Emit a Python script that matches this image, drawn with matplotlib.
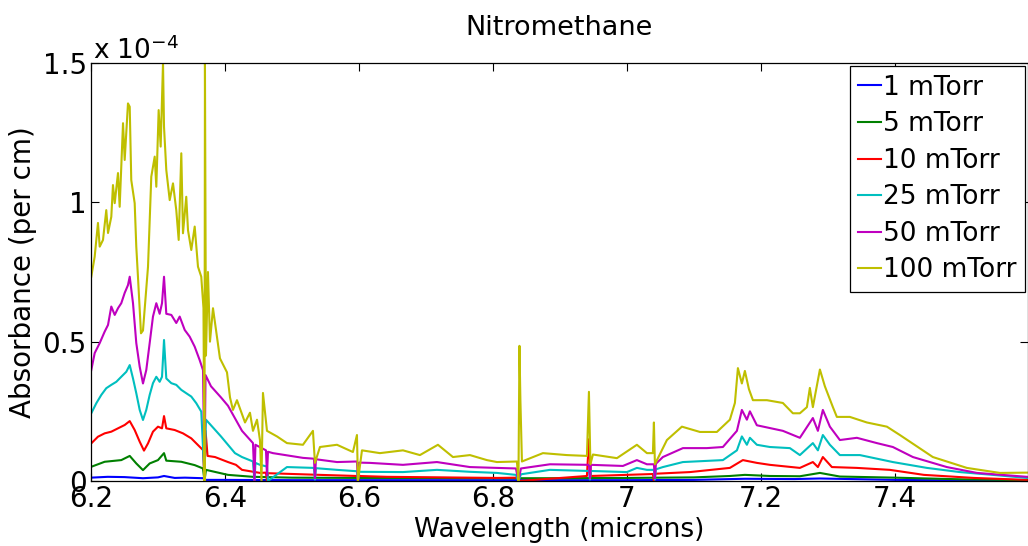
import matplotlib
matplotlib.use("Agg")
import matplotlib.pyplot as plt
import numpy as np

plt.rcParams['font.family'] = ['DejaVu Sans']

# absorbance values are in units of 1e-4 per cm
wl_100 = [6.2004, 6.2055, 6.2104, 6.2130, 6.2179, 6.2228, 6.2254, 6.2303, 6.2328, 6.2354,
          6.2403, 6.2428, 6.2478, 6.2503, 6.2552, 6.2578, 6.2601, 6.2652, 6.2676, 6.2701,
          6.2746, 6.2776, 6.2851, 6.2900, 6.2951, 6.2975, 6.3010, 6.3040, 6.3075, 6.3090,
          6.3124, 6.3175, 6.3224, 6.3273, 6.3309, 6.3348, 6.3373, 6.3422, 6.3448, 6.3497,
          6.3548, 6.3597, 6.3646, 6.3679, 6.3694, 6.3701, 6.3716, 6.3746, 6.3776, 6.3821,
          6.3925, 6.4030, 6.4075, 6.4119, 6.4179, 6.4299, 6.4373, 6.4418, 6.4478, 6.4522,
          6.4545, 6.4567, 6.4627, 6.4776, 6.4925, 6.5164, 6.5313, 6.5343, 6.5418, 6.5672,
          6.5910, 6.5970, 6.5985, 6.6045, 6.6313, 6.6657, 6.6910, 6.7179, 6.7403, 6.7657,
          6.7910, 6.8060, 6.8358, 6.8381, 6.8396, 6.8410, 6.8433, 6.8746, 6.9104, 6.9403,
          6.9433, 6.9455, 6.9493, 6.9851, 7.0149, 7.0299, 7.0388, 7.0403, 7.0418, 7.0597,
          7.0821, 7.1090, 7.1343, 7.1537, 7.1612, 7.1657, 7.1716, 7.1761, 7.1821, 7.1881,
          7.2090, 7.2328, 7.2478, 7.2582, 7.2687, 7.2731, 7.2776, 7.2881, 7.2955, 7.3075,
          7.3134, 7.3328, 7.3582, 7.3881, 7.4075, 7.4567, 7.5075, 7.5567, 7.5970]
abs_100 = [0.733, 0.805, 0.926, 0.841, 0.865, 0.972, 0.890, 0.948, 1.062, 0.997,
           1.105, 0.984, 1.284, 1.152, 1.355, 1.343, 1.080, 0.997, 0.841, 0.733,
           0.530, 0.540, 0.769, 1.092, 1.164, 1.056, 1.331, 1.200, 1.500, 1.271,
           1.116, 1.008, 1.068, 0.972, 0.865, 1.176, 0.889, 1.020, 0.900, 0.829,
           0.913, 0.769, 0.733, 0.620, 0.000, 1.500, 0.450, 0.750, 0.500, 0.620,
           0.440, 0.390, 0.300, 0.255, 0.290, 0.210, 0.245, 0.180, 0.220, 0.147,
           0.000, 0.316, 0.180, 0.160, 0.136, 0.130, 0.180, 0.065, 0.122, 0.130,
           0.104, 0.165, 0.000, 0.110, 0.100, 0.110, 0.093, 0.130, 0.086, 0.093,
           0.075, 0.068, 0.070, 0.000, 0.485, 0.290, 0.070, 0.100, 0.093, 0.090,
           0.320, 0.060, 0.095, 0.082, 0.130, 0.100, 0.100, 0.210, 0.060, 0.147,
           0.195, 0.176, 0.176, 0.220, 0.280, 0.405, 0.350, 0.395, 0.330, 0.290,
           0.290, 0.280, 0.243, 0.243, 0.265, 0.334, 0.265, 0.400, 0.340, 0.265,
           0.230, 0.230, 0.210, 0.195, 0.165, 0.086, 0.047, 0.029, 0.030]

wl_50 = [6.2004, 6.2055, 6.2130, 6.2204, 6.2254, 6.2303, 6.2354, 6.2403, 6.2452, 6.2503,
         6.2552, 6.2578, 6.2627, 6.2676, 6.2727, 6.2776, 6.2825, 6.2876, 6.2925, 6.2975,
         6.3025, 6.3060, 6.3090, 6.3124, 6.3199, 6.3273, 6.3324, 6.3399, 6.3473, 6.3548,
         6.3622, 6.3672, 6.3694, 6.3710, 6.3791, 6.3940, 6.4045,
         6.4254, 6.4418, 6.4440, 6.4455, 6.4612, 6.4627, 6.4642, 6.4716, 6.5164, 6.5328,
         6.5343, 6.5358, 6.5672, 6.5970, 6.5985, 6.6000, 6.6164, 6.6657, 6.7164, 6.7657,
         6.8060, 6.8343, 6.8381, 6.8418, 6.8851, 6.9433, 6.9448, 6.9463, 6.9940, 7.0149,
         7.0299, 7.0403, 7.0418, 7.0433, 7.0537, 7.0836, 7.1194, 7.1433, 7.1642, 7.1716,
         7.1791, 7.1836, 7.1940, 7.2134, 7.2328, 7.2582, 7.2776, 7.2851, 7.2925, 7.3030,
         7.3179, 7.3433, 7.3731, 7.3970, 7.4269, 7.4776, 7.5224, 7.5970]
abs_50 = [0.398, 0.459, 0.495, 0.536, 0.560, 0.626, 0.596, 0.620, 0.638, 0.675,
          0.703, 0.733, 0.638, 0.495, 0.410, 0.350, 0.398, 0.495, 0.590, 0.638,
          0.600, 0.638, 0.733, 0.600, 0.596, 0.567, 0.590, 0.542, 0.518, 0.482,
          0.434, 0.398, 0.020, 0.380, 0.340, 0.300, 0.270,
          0.180, 0.136, 0.000, 0.130, 0.110, 0.020, 0.105, 0.100, 0.083, 0.080,
          0.010, 0.078, 0.068, 0.070, 0.000, 0.066, 0.065, 0.058, 0.068, 0.050,
          0.047, 0.045, 0.000, 0.045, 0.060, 0.058, 0.010, 0.058, 0.054, 0.075,
          0.060, 0.060, 0.010, 0.062, 0.086, 0.118, 0.118, 0.122, 0.180, 0.255,
          0.220, 0.250, 0.200, 0.190, 0.180, 0.155, 0.226, 0.180, 0.255, 0.195,
          0.147, 0.155, 0.136, 0.122, 0.086, 0.050, 0.029, 0.015]

wl_25 = [6.2004, 6.2079, 6.2154, 6.2228, 6.2303, 6.2378, 6.2452, 6.2527, 6.2578, 6.2627,
         6.2676, 6.2727, 6.2776, 6.2825, 6.2876, 6.2925, 6.2975, 6.3025, 6.3060, 6.3090,
         6.3124, 6.3199, 6.3273, 6.3348, 6.3422, 6.3497, 6.3572, 6.3646,
         6.3694, 6.3716, 6.3791, 6.3940, 6.4149, 6.4254,
         6.4418, 6.4440, 6.4455, 6.4522, 6.4627, 6.4642, 6.4925, 6.5328, 6.5343, 6.5358,
         6.5672, 6.5970, 6.5985, 6.6000, 6.6657, 6.7164, 6.7657, 6.8060, 6.8343, 6.8381,
         6.8418, 6.8851, 6.9433, 6.9448, 6.9463, 7.0000, 7.0149, 7.0299, 7.0403, 7.0418,
         7.0433, 7.0537, 7.0836, 7.1433, 7.1642, 7.1716, 7.1791, 7.1836, 7.1940, 7.2134,
         7.2433, 7.2582, 7.2776, 7.2851, 7.2925, 7.3030, 7.3179, 7.3478, 7.3970,
         7.4478, 7.4970, 7.5463, 7.5970]
abs_25 = [0.243, 0.279, 0.309, 0.333, 0.345, 0.356, 0.374, 0.392, 0.416, 0.368,
          0.315, 0.255, 0.219, 0.255, 0.309, 0.351, 0.374, 0.356, 0.374, 0.506,
          0.368, 0.351, 0.345, 0.327, 0.315, 0.303, 0.279, 0.249,
          0.010, 0.220, 0.200, 0.160, 0.100, 0.086,
          0.070, 0.000, 0.065, 0.058, 0.052, 0.000, 0.050, 0.047, 0.005, 0.046,
          0.040, 0.035, 0.000, 0.033, 0.032, 0.040, 0.033, 0.029, 0.022, 0.000,
          0.024, 0.040, 0.036, 0.005, 0.036, 0.032, 0.047, 0.040, 0.040, 0.005,
          0.042, 0.050, 0.068, 0.075, 0.110, 0.160, 0.130, 0.155, 0.130, 0.122,
          0.118, 0.093, 0.136, 0.110, 0.165, 0.130, 0.093, 0.093, 0.068,
          0.047, 0.032, 0.022, 0.011]

wl_10 = [6.2004, 6.2104, 6.2204, 6.2303, 6.2403, 6.2503, 6.2578, 6.2652, 6.2727, 6.2791,
         6.2851, 6.2925, 6.3000, 6.3060, 6.3090, 6.3124, 6.3249, 6.3373, 6.3497, 6.3597,
         6.3672, 6.3694, 6.3710, 6.3740, 6.3851, 6.4045, 6.4164, 6.4254,
         6.4522, 6.4612, 6.4627, 6.4642, 6.5418, 6.5970, 6.5985, 6.6000, 6.6418, 6.8060,
         6.8381, 6.8396, 6.9403, 6.9433, 6.9463, 7.0388, 7.0403, 7.0418, 7.0940, 7.1537,
         7.1731, 7.1940, 7.2134, 7.2582, 7.2776, 7.2851, 7.2925, 7.3060, 7.3433, 7.3925,
         7.4433, 7.5179, 7.5970]
abs_10 = [0.135, 0.159, 0.171, 0.177, 0.189, 0.201, 0.215, 0.183, 0.141, 0.109,
          0.135, 0.177, 0.195, 0.189, 0.233, 0.189, 0.183, 0.171, 0.153, 0.129,
          0.111, 0.000, 0.180, 0.090, 0.086, 0.068, 0.058, 0.040,
          0.029, 0.030, 0.000, 0.028, 0.022, 0.018, 0.000, 0.018, 0.015, 0.011,
          0.012, 0.000, 0.018, 0.150, 0.018, 0.025, 0.000, 0.026, 0.032, 0.047,
          0.075, 0.065, 0.058, 0.047, 0.068, 0.050, 0.086, 0.050, 0.047, 0.040,
          0.022, 0.011, 0.004]

wl_5 = [6.2004, 6.2204, 6.2452, 6.2578, 6.2676, 6.2776, 6.2876, 6.3000, 6.3090, 6.3124,
        6.3348, 6.3548, 6.3672, 6.3694, 6.3716, 6.4045, 6.4418, 6.5000, 6.6000, 6.7000,
        6.8000, 6.9000, 7.0000, 7.1000, 7.1537, 7.1761, 7.2134, 7.2582, 7.2881, 7.3179,
        7.4000, 7.5000, 7.5970]
abs_5 = [0.051, 0.069, 0.075, 0.090, 0.063, 0.039, 0.063, 0.075, 0.100, 0.073,
         0.069, 0.057, 0.045, 0.000, 0.040, 0.022, 0.015, 0.012, 0.011, 0.011,
         0.010, 0.010, 0.011, 0.013, 0.018, 0.022, 0.018, 0.017, 0.029, 0.016,
         0.012, 0.006, 0.003]

wl_1 = [6.2000, 6.2250, 6.2500, 6.2776, 6.3000, 6.3090, 6.3250, 6.3403, 6.3672, 6.3716,
        6.4000, 6.5000, 6.6000, 6.7000, 6.8000, 6.9000, 7.0000, 7.1000, 7.1761, 7.2500,
        7.2881, 7.4000, 7.5000, 7.5970]
abs_1 = [0.012, 0.015, 0.014, 0.010, 0.013, 0.018, 0.011, 0.012, 0.010, 0.004,
         0.004, 0.003, 0.003, 0.003, 0.003, 0.003, 0.003, 0.004, 0.008, 0.007,
         0.009, 0.004, 0.002, 0.001]

series = [
    (wl_1, abs_1, "1 mTorr", (0, 0, 1)),
    (wl_5, abs_5, "5 mTorr", (0, 0.5, 0)),
    (wl_10, abs_10, "10 mTorr", (1, 0, 0)),
    (wl_25, abs_25, "25 mTorr", (0, 0.75, 0.75)),
    (wl_50, abs_50, "50 mTorr", (0.75, 0, 0.75)),
    (wl_100, abs_100, "100 mTorr", (0.75, 0.75, 0)),
]

fig = plt.figure(figsize=(10.28, 5.46), dpi=100)
ax = fig.add_axes([91 / 1028, 1 - 481 / 546, 936.5 / 1028, 418 / 546])

for wl, ab, lab, col in series:
    ax.plot(wl, np.array(ab) * 1e-4, color=col, lw=1.5, label=lab)

ax.set_xlim(6.2, 7.598)
ax.set_ylim(0, 1.5e-4)
ax.set_xticks([6.2, 6.4, 6.6, 6.8, 7.0, 7.2, 7.4])
ax.set_xticklabels(["6.2", "6.4", "6.6", "6.8", "7", "7.2", "7.4"])
ax.set_yticks([0, 0.5e-4, 1e-4, 1.5e-4])
ax.set_yticklabels(["0", "0.5", "1", "1.5"])
ax.tick_params(direction="in", top=True, right=True, length=6, width=0.8,
               labelsize=20, pad=3)
for sp in ax.spines.values():
    sp.set_linewidth(0.9)

ax.text(0.002, 0.995, "x 10$^{-4}$", transform=ax.transAxes, fontsize=19,
        ha="left", va="bottom")
ax.set_title("Nitromethane", fontsize=19.5, pad=20)
ax.set_xlabel("Wavelength (microns)", fontsize=19, labelpad=3)
ax.set_ylabel("Absorbance (per cm)", fontsize=20, labelpad=4)

leg = ax.legend(loc="upper right", bbox_to_anchor=(1025 / 1028, 1 - 66 / 546),
                bbox_transform=fig.transFigure, fontsize=19, handlelength=0.85,
                handletextpad=0.08, borderpad=0.33, labelspacing=0.4,
                borderaxespad=0, fancybox=False, framealpha=1)
leg.get_frame().set_edgecolor("black")
leg.get_frame().set_linewidth(0.9)

fig.savefig("out.png", dpi=100)
